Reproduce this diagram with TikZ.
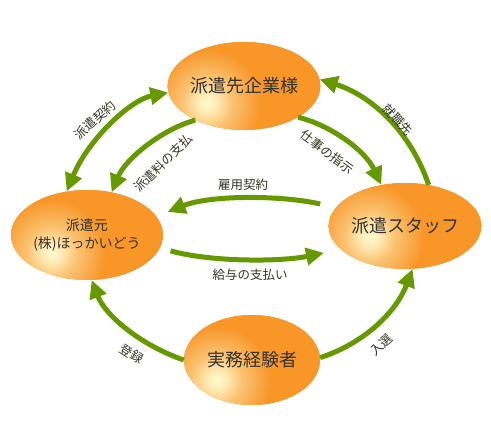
\documentclass[tikz,border=0pt]{standalone}
\usepackage{fontspec}
\setmainfont{Noto Sans CJK JP}
\usetikzlibrary{arrows.meta,shapes.geometric}
\definecolor{orng}{RGB}{248,150,40}
\definecolor{pale}{RGB}{255,250,205}
\definecolor{grn}{HTML}{669900}
\definecolor{txt}{HTML}{333333}
\definecolor{lbl}{HTML}{333322}
\pgfdeclareradialshading{glow}{\pgfpoint{0bp}{0bp}}{%
  color(0bp)=(pale); color(1.6bp)=(pale!85!orng); color(4.2bp)=(pale!45!orng);
  color(9bp)=(orng); color(50bp)=(orng)}
\tikzset{
  blob/.style={ellipse, inner sep=0pt, fill=orng, text=txt,
    path picture={\shade[shading=glow]
      ([shift={(#1)}]path picture bounding box.center) circle (150pt);}},
  arr/.style={draw=grn, line width=5pt, -{Triangle[length=18pt,width=17pt]}},
  darr/.style={draw=grn, line width=5pt, {Triangle[length=18pt,width=17pt]}-{Triangle[length=18pt,width=17pt]}},
  lab/.style={text=lbl, font=\fontsize{12.5}{14}\selectfont, inner sep=0pt}
}
\begin{document}
\begin{tikzpicture}[x=1pt,y=1pt]
\useasboundingbox[fill=white] (0,0) rectangle (491,430);
% nodes
\node[blob={-37pt,-17pt}, minimum width=138pt, minimum height=88pt,
  font=\fontsize{18}{20}\selectfont] (A) at (244,344) {派遣先企業様};
\node[blob={-35pt,-18pt}, minimum width=138pt, minimum height=90pt,
  font=\fontsize{14}{18}\selectfont, align=center] (B) at (87,195) {派遣元\\(株)ほっかいどう};
\node[blob={-35pt,-11pt}, minimum width=138pt, minimum height=86pt,
  font=\fontsize{18}{20}\selectfont] (C) at (405,204) {派遣スタッフ};
\node[blob={-35pt,-20pt}, minimum width=136pt, minimum height=90pt,
  font=\fontsize{18}{20}\selectfont] (D) at (252,70) {実務経験者};
% connectors
\draw[darr] (B.115) .. controls (88,290) and (130,330) .. (A.185);
\draw[arr] (A.215) .. controls (160,300) and (125,270) .. (B.60);
\draw[arr] (A.330) .. controls (330,305) and (365,280) .. (C.120);
\draw[arr] (C.60) .. controls (410,300) and (370,335) .. (A.5);
\draw[arr, shorten <=16pt, shorten >=12pt] (C.165) .. controls (280,235) and (210,235) .. (B.15);
\draw[arr, shorten <=11pt, shorten >=17pt] (B.350) .. controls (210,168) and (280,168) .. (C.200);
\draw[arr] (D.180) .. controls (140,85) and (105,115) .. (B.276);
\draw[arr] (D.2) .. controls (360,85) and (395,115) .. (C.280);
% labels
\node[lab, rotate=42] (l1) at (95,310) {派遣契約};
\node[lab, rotate=45] (l2) at (163,267) {派遣料の支払};
\node[lab, rotate=-37] (l3) at (327,278) {仕事の指示};
\node[lab, rotate=-47] (l4) at (398,310) {就職先};
\node[lab] (l5) at (243,245) {雇用契約};
\node[lab] (l6) at (250,155) {給与の支払い};
\node[lab, rotate=-33] (l7) at (132,76) {登録};
\node[lab, rotate=43] (l8) at (381,85) {入選};
\end{tikzpicture}
\end{document}
